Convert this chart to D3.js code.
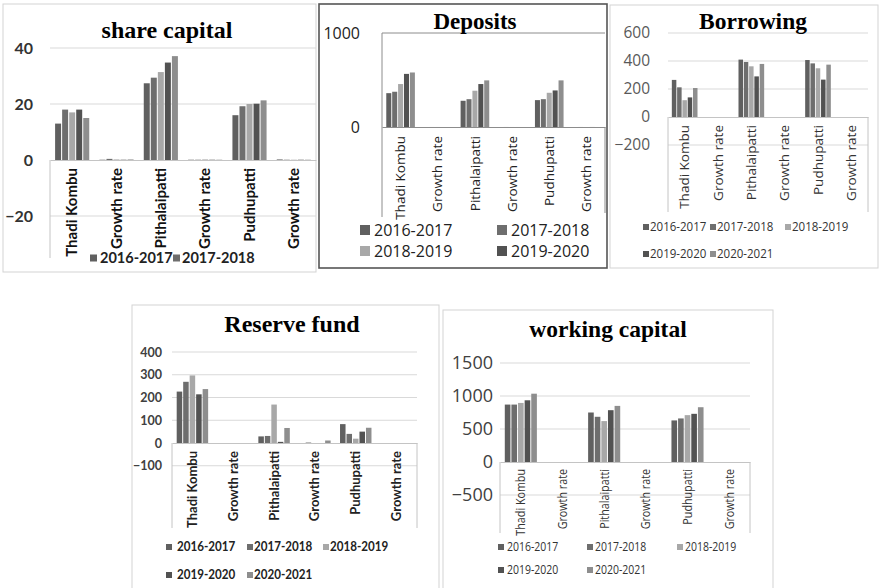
<!DOCTYPE html>
<html>
<head>
<meta charset="utf-8">
<script src="https://cdn.jsdelivr.net/npm/d3@7"></script>
<style>
  html, body { margin: 0; padding: 0; background: #fff; }
  svg { display: block; }
</style>
</head>
<body>
<svg id="chart" width="881" height="588"></svg>
<script>
// ---- data ----
const categories = ["Thadi Kombu", "Growth rate", "Pithalaipatti", "Growth rate", "Pudhupatti", "Growth rate"];
const years = ["2016-2017", "2017-2018", "2018-2019", "2019-2020", "2020-2021"];
const yearColors = ["#606060", "#6e6e6e", "#a8a8a8", "#525252", "#8e8e8e"];

// one row per category, one value per year
const shareCapital = [
  [13, 18, 17, 18, 15],
  [0.1, 0.4, 0.2, 0.1, 0.2],
  [27.4, 29.4, 31.4, 34.8, 37.1],
  [0.1, 0.1, 0.2, 0.1, 0.1],
  [16, 19.2, 20, 20.1, 21.3],
  [0.2, 0.1, 0.1, 0.1, 0.1]
];
const deposits = [
  [360, 375, 457, 565, 580],
  [0.04, 0.22, 0.24, 0.03, 0.1],
  [279, 296, 386, 457, 496],
  [0.06, 0.3, 0.18, 0.09, 0.1],
  [286, 296, 364, 389, 496],
  [0.03, 0.23, 0.07, 0.28, 0.1]
];
const borrowing = [
  [265, 212, 120, 140, 207],
  [0, 0, 0, 0, 0],
  [410, 393, 362, 290, 379],
  [0, 0, 0, 0, 0],
  [407, 383, 348, 267, 374],
  [0, 0, 0, 0, 0]
];
const reserveFund = [
  [226, 269, 297, 214, 237],
  [0, 0, 0, 0, 0],
  [29, 31, 169, 5, 66],
  [0, 2, 0, 0, 11],
  [83, 40, 19, 50, 67],
  [0, 0, 0, 0, 0]
];
const workingCapital = [
  [870, 870, 895, 935, 1035],
  [0, 0, 0, 0, 0],
  [750, 685, 620, 785, 850],
  [0, 0, 0, 0, 0],
  [630, 660, 710, 730, 830],
  [0, 0, 0, 0, 0]
];

const shareTicks = [40, 20, 0, -20];
const depositTicks = [1000, 0];
const borrowingTicks = [600, 400, 200, 0, -200];
const reserveTicks = [400, 300, 200, 100, 0, -100];
const workingTicks = [1500, 1000, 500, 0, -500];

// ---- layout / style of each panel ----
const SERIF = "'Liberation Serif', 'Times New Roman', serif";
const LATO = "Lato, 'Open Sans', sans-serif";
const OPEN = "'Open Sans', 'Noto Sans', sans-serif";

const panels = [
  {
    title: "share capital", values: shareCapital, ticks: shareTicks,
    box: { x: 3, y: 4, w: 313, h: 268, stroke: "#d3d3d3", sw: 1 },
    titlePos: { x: 167, y: 38, size: 24 },
    x0: 50, x1: 316, domain: [-40, 40], range: [272, 48],
    tickEnd: 33, tickFont: { family: LATO, size: 16, weight: 700, color: "#333" },
    grid: true, frameBottom: 258, frameRight: false,
    catFont: { family: LATO, size: 15, weight: 700, color: "#111" }, catOffset: 8,
    legend: { rows: [[0, 1]], ys: [258], mx: [90, 173], tx: [100, 182], ms: 7,
              font: { family: LATO, size: 14.5, weight: 700, color: "#222" } }
  },
  {
    title: "Deposits", values: deposits, ticks: depositTicks,
    box: { x: 319, y: 4, w: 288, h: 264, stroke: "#555", sw: 1.6 },
    titlePos: { x: 475, y: 29, size: 23 },
    x0: 382, x1: 605, domain: [-1000, 1000], range: [221, 33],
    tickEnd: 360, tickFont: { family: OPEN, size: 16, weight: 400, color: "#222" },
    grid: false, frameTop: true, frameBottom: 217, frameRight: true, frameRightBottom: 213,
    catFont: { family: OPEN, size: 13.5, weight: 400, color: "#222" }, catOffset: 9,
    legend: { rows: [[0, 1], [2, 3]], ys: [230, 251], mx: [360, 497], tx: [374, 511], ms: 10,
              font: { family: OPEN, size: 16, weight: 400, color: "#222" } }
  },
  {
    title: "Borrowing", values: borrowing, ticks: borrowingTicks,
    box: { x: 610, y: 5, w: 268, h: 263, stroke: "#d3d3d3", sw: 1 },
    titlePos: { x: 753, y: 29, size: 23.5 },
    x0: 668, x1: 868, domain: [-600, 600], range: [201, 33],
    tickEnd: 650, tickFont: { family: OPEN, size: 15.5, weight: 400, color: "#595959" },
    grid: true, frameBottom: 212, frameRight: true,
    catFont: { family: OPEN, size: 13.5, weight: 400, color: "#333" }, catOffset: 8,
    legend: { rows: [[0, 1, 2], [3, 4]], ys: [227, 254], mx: [643, 710, 785], tx: [650, 717, 792], ms: 6,
              font: { family: OPEN, size: 12, weight: 400, color: "#333", sx: 0.96 } }
  },
  {
    title: "Reserve fund", values: reserveFund, ticks: reserveTicks,
    box: { x: 132, y: 305, w: 307, h: 300, stroke: "#d3d3d3", sw: 1 },
    titlePos: { x: 292, y: 332, size: 24 },
    x0: 172, x1: 417, domain: [-100, 400], range: [465.75, 352],
    tickEnd: 162, tickFont: { family: LATO, size: 12.5, weight: 700, color: "#404040" },
    grid: true, frameBottom: 528, frameRight: true,
    catFont: { family: LATO, size: 13, weight: 700, color: "#222" }, catOffset: 8,
    legend: { rows: [[0, 1, 2], [3, 4]], ys: [547, 575], mx: [166, 247, 323], tx: [177, 254, 330], ms: 6,
              font: { family: LATO, size: 12.5, weight: 700, color: "#222", sx: 0.93 } }
  },
  {
    title: "working capital", values: workingCapital, ticks: workingTicks,
    box: { x: 443, y: 310, w: 330, h: 290, stroke: "#d3d3d3", sw: 1 },
    titlePos: { x: 608, y: 337, size: 23.5 },
    x0: 500, x1: 750, domain: [-500, 1500], range: [495, 363],
    tickEnd: 493, tickFont: { family: OPEN, size: 18, weight: 400, color: "#404040" },
    grid: true, frameBottom: 533, frameRight: true,
    catFont: { family: OPEN, size: 12.5, weight: 400, color: "#333", sx: 0.86 }, catOffset: 7,
    legend: { rows: [[0, 1, 2], [3, 4]], ys: [547, 570], mx: [498, 587, 677], tx: [507, 595, 685], ms: 6,
              font: { family: OPEN, size: 12.5, weight: 400, color: "#333", sx: 0.84 } }
  }
];

const svg = d3.select("#chart");

function applyFont(sel, f) {
  sel.attr("font-family", f.family)
     .attr("font-size", f.size)
     .attr("font-weight", f.weight)
     .attr("fill", f.color);
}

panels.forEach(p => {
  const g = svg.append("g");

  // panel border
  g.append("rect")
    .attr("x", p.box.x).attr("y", p.box.y)
    .attr("width", p.box.w).attr("height", p.box.h)
    .attr("fill", "#fff")
    .attr("stroke", p.box.stroke).attr("stroke-width", p.box.sw);

  const y = d3.scaleLinear().domain(p.domain).range(p.range);
  const x = d3.scaleBand()
    .domain(categories.map((c, i) => i))
    .range([p.x0, p.x1])
    .paddingInner(0.23).paddingOuter(0.115);
  const xs = d3.scaleBand()
    .domain(years.map((d, i) => i))
    .range([0, x.bandwidth()])
    .paddingInner(0.15);

  const zeroY = y(0);
  const lineColor = p.frameTop ? "#8c8c8c" : "#c4c4c4";

  // horizontal gridlines
  if (p.grid) {
    g.append("g").selectAll("line")
      .data(p.ticks.filter(t => t !== 0))
      .join("line")
      .attr("x1", p.x0).attr("x2", p.x1)
      .attr("y1", d => y(d)).attr("y2", d => y(d))
      .attr("stroke", "#d9d9d9").attr("stroke-width", 1);
  }

  // plot frame parts
  const frame = g.append("g").attr("stroke", lineColor).attr("stroke-width", 1);
  if (p.frameTop) {
    frame.append("line").attr("x1", p.x0).attr("x2", p.x1)
      .attr("y1", y(p.domain[1])).attr("y2", y(p.domain[1]));
    frame.append("line").attr("x1", p.x0).attr("x2", p.x0)
      .attr("y1", y(p.domain[1])).attr("y2", p.frameBottom);
  } else {
    frame.append("line").attr("x1", p.x0).attr("x2", p.x0)
      .attr("y1", zeroY).attr("y2", p.frameBottom);
  }
  if (p.frameRight) {
    frame.append("line").attr("x1", p.x1).attr("x2", p.x1)
      .attr("y1", zeroY).attr("y2", p.frameRightBottom || p.frameBottom);
  }

  // bars
  const groups = g.append("g").selectAll("g")
    .data(p.values)
    .join("g")
    .attr("transform", (d, i) => `translate(${x(i)},0)`);
  groups.selectAll("rect")
    .data(d => d)
    .join("rect")
    .attr("x", (d, i) => xs(i))
    .attr("width", xs.bandwidth())
    .attr("y", d => Math.min(y(d), zeroY))
    .attr("height", d => Math.abs(y(d) - zeroY))
    .attr("fill", (d, i) => yearColors[i]);

  // category axis on the zero line, labels rotated
  const csx = p.catFont.sx || 1;
  const xAxis = g.append("g")
    .attr("transform", `translate(0,${zeroY})`)
    .call(d3.axisBottom(x).tickSize(0).tickFormat(i => categories[i]));
  xAxis.select(".domain").attr("stroke", lineColor);
  xAxis.selectAll("text")
    .attr("transform", `rotate(-90) scale(${csx},1)`)
    .attr("text-anchor", "end")
    .attr("x", -p.catOffset / csx).attr("y", 0).attr("dy", "0.35em")
    .call(applyFont, p.catFont);

  // value axis labels
  const yAxis = g.append("g")
    .attr("transform", `translate(${p.tickEnd},0)`)
    .call(d3.axisLeft(y).tickValues(p.ticks).tickSize(0).tickPadding(0).tickFormat(d3.format("d")));
  yAxis.select(".domain").remove();
  yAxis.selectAll("text").call(applyFont, p.tickFont);

  // title
  g.append("text")
    .attr("x", p.titlePos.x).attr("y", p.titlePos.y)
    .attr("text-anchor", "middle")
    .attr("font-family", SERIF).attr("font-weight", 700)
    .attr("font-size", p.titlePos.size).attr("fill", "#000")
    .text(p.title);

  // legend
  const L = p.legend;
  const lsx = L.font.sx || 1;
  L.rows.forEach((row, r) => {
    row.forEach((si, c) => {
      g.append("rect")
        .attr("x", L.mx[c]).attr("y", L.ys[r] - L.ms / 2)
        .attr("width", L.ms).attr("height", L.ms)
        .attr("fill", yearColors[si]);
      g.append("text")
        .attr("transform", `translate(${L.tx[c]},${L.ys[r]}) scale(${lsx},1)`)
        .attr("dy", "0.35em")
        .call(applyFont, L.font)
        .text(years[si]);
    });
  });
});
</script>
</body>
</html>
